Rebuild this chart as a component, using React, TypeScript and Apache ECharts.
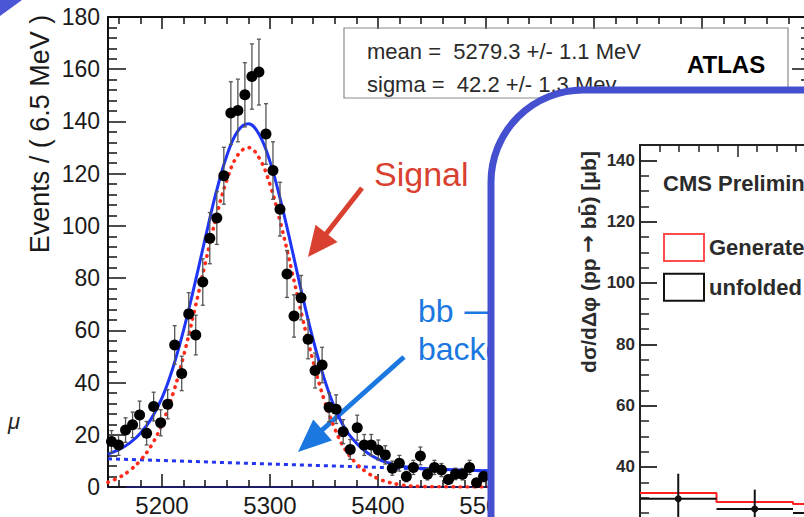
import React, { useEffect, useRef } from "react";
import * as echarts from "echarts";

const FONT = "'Liberation Sans', Arial, Helvetica, sans-serif";
const ARROW_FONT = "'DejaVu Sans', sans-serif";

// ---------- ATLAS B-meson mass spectrum ----------
const massBinStart = 5150;
const massBinWidth = 6.5;
const eventCounts = [
  17.4, 16.1, 21.8, 23.8, 27.6, 20.6, 30.8, 24.6, 31.7, 54.4,
  43.5, 66.3, 58.2, 78.5, 95.3, 103, 119.2, 143.2, 144.2, 150.2,
  157.2, 158.9, 135.2, 121.2, 106.4, 81.6, 65.5, 72.5, 56.6, 44.6,
  46.7, 30.5, 29.8, 21.2, 14.4, 22.7, 16.1, 16.1, 14.2, 12.3,
  7.2, 9.1, 4.0, 7.5, 11.9, 4.9, 7.5, 6.5, 2.9, 5.0,
  4.9, 7.5, 1.6, 4.0,
];
const eventErrors = [
  4.2, 4.0, 4.7, 4.9, 5.3, 4.5, 5.5, 5.0, 5.6, 7.4,
  6.6, 8.1, 7.6, 8.9, 9.8, 10.1, 10.9, 12.0, 12.0, 12.3,
  12.5, 12.6, 11.6, 11.0, 10.3, 9.0, 8.1, 8.5, 7.5, 6.7,
  6.8, 5.5, 5.5, 4.6, 3.8, 4.8, 4.0, 4.0, 3.8, 3.5,
  2.7, 3.0, 2.0, 2.7, 3.4, 2.2, 2.7, 2.5, 1.7, 2.2,
  2.2, 2.7, 1.3, 2.0,
];
const fitMass = [
  5150, 5160, 5170, 5180, 5190, 5200, 5210, 5220, 5230, 5240,
  5250, 5260, 5270, 5280, 5290, 5300, 5310, 5320, 5330, 5340,
  5350, 5360, 5370, 5380, 5390, 5400, 5410, 5420, 5430, 5440,
  5450, 5500, 5600, 5700, 5800,
];
const signalFit = [
  1.8, 3.6, 6.3, 10.2, 15.8, 24.0, 35.5, 50.2, 67.4, 85.6,
  103.1, 117.5, 127.0, 130.0, 126.0, 115.8, 100.7, 83.1, 64.9, 48.0,
  33.6, 22.3, 14.1, 9.0, 5.5, 3.2, 1.8, 0.9, 0.4, 0.2,
  0.1, 0, 0, 0, 0,
];
const totalFit = [
  12.6, 14.3, 16.8, 20.6, 26.1, 34.1, 45.5, 60.1, 77.1, 95.2,
  112.6, 126.9, 136.2, 139.1, 135.0, 124.6, 109.4, 91.7, 73.3, 56.3,
  41.8, 30.3, 22.0, 16.8, 13.1, 10.7, 9.2, 8.1, 7.5, 7.2,
  6.9, 6.2, 4.9, 3.5, 2.2,
];
const bkgMass = [5150, 5800];
const bkgFit = [10.8, 2.2];

// ---------- CMS inset: dσ/dΔφ ----------
const dphiEdges = [0, Math.PI / 8, Math.PI / 4, (3 * Math.PI) / 8];
const generatedXsec = [31.5, 28.6, 27.9];
const unfoldedXsec = [29.6, 26.3, 25.0];
const unfoldedErr = [8.2, 6.3, 6.0];

const RED_TXT = "#d9402f";
const BLUE_TXT = "#1b78e0";
const FRAME = "#4450d0";

function buildOption(): any {
  const binCenters = eventCounts.map((_, i) => massBinStart + massBinWidth * (i + 0.5));
  const atlasAxisLine = { show: true, onZero: false, lineStyle: { color: "#111", width: 2 } };
  const tickLine = { color: "#111", width: 1.5 };
  const plain = (v: number) => String(v);

  return {
    animation: false,
    backgroundColor: "#ffffff",
    textStyle: { fontFamily: FONT },
    grid: [
      { left: 108, top: 17, width: 702, height: 470, outerBoundsMode: "none", containLabel: false },
      { left: 640, top: 145, width: 612, height: 444.6, outerBoundsMode: "none", containLabel: false },
    ],
    xAxis: [
      {
        type: "value", gridIndex: 0, position: "bottom", min: 5150, max: 5800, splitNumber: 5,
        axisLine: { show: true, onZero: false, lineStyle: { color: "#1c1c66", width: 2 } },
        axisTick: { show: true, inside: true, length: 13, lineStyle: tickLine },
        minorTick: { show: true, splitNumber: 5, length: 7, lineStyle: tickLine },
        axisLabel: { show: true, margin: 6, fontSize: 24, color: "#1a1a1a", fontFamily: FONT, showMinLabel: false, showMaxLabel: false, formatter: plain },
        splitLine: { show: false }, minorSplitLine: { show: false },
      },
      {
        type: "value", gridIndex: 0, position: "top", min: 5150, max: 5800, splitNumber: 5,
        axisLine: atlasAxisLine,
        axisTick: { show: true, inside: true, length: 12, lineStyle: tickLine },
        minorTick: { show: true, splitNumber: 5, length: 7, lineStyle: tickLine },
        axisLabel: { show: false },
        splitLine: { show: false }, minorSplitLine: { show: false },
      },
      {
        type: "value", gridIndex: 1, position: "top", min: 0, max: Math.PI, interval: 0.5, z: 20,
        axisLine: { show: true, onZero: false, lineStyle: { color: "#222", width: 2 } },
        axisTick: { show: true, inside: true, length: 12, lineStyle: { color: "#222", width: 1.5 } },
        minorTick: { show: true, splitNumber: 5, length: 7, lineStyle: { color: "#222", width: 1.5 } },
        axisLabel: { show: false },
        splitLine: { show: false }, minorSplitLine: { show: false },
      },
    ],
    yAxis: [
      {
        type: "value", gridIndex: 0, position: "left", min: 0, max: 180, interval: 20,
        axisLine: atlasAxisLine,
        axisTick: { show: true, inside: true, length: 18, lineStyle: tickLine },
        minorTick: { show: true, splitNumber: 5, length: 9, lineStyle: tickLine },
        axisLabel: { show: true, margin: 8, fontSize: 23, color: "#1a1a1a", fontFamily: FONT, formatter: plain },
        splitLine: { show: false }, minorSplitLine: { show: false },
      },
      {
        type: "value", gridIndex: 0, position: "right", min: 0, max: 180, interval: 20,
        axisLine: atlasAxisLine,
        axisTick: { show: true, inside: true, length: 18, lineStyle: tickLine },
        minorTick: { show: true, splitNumber: 5, length: 9, lineStyle: tickLine },
        axisLabel: { show: false },
        splitLine: { show: false }, minorSplitLine: { show: false },
      },
      {
        type: "value", gridIndex: 1, position: "left", min: 0, max: 145, interval: 20, z: 20,
        axisLine: { show: true, onZero: false, lineStyle: { color: "#222", width: 2 } },
        axisTick: { show: true, inside: true, length: 17, lineStyle: { color: "#222", width: 1.8 } },
        minorTick: { show: true, splitNumber: 4, length: 9, lineStyle: { color: "#222", width: 1.5 } },
        axisLabel: { show: true, margin: 5, fontSize: 17, fontWeight: "bold", color: "#2b2b2b", fontFamily: FONT, showMaxLabel: false, formatter: plain },
        splitLine: { show: false }, minorSplitLine: { show: false },
      },
    ],
    legend: {
      show: true, orient: "vertical", left: 663, top: 233, padding: 0,
      itemWidth: 40, itemHeight: 27, itemGap: 10.7, selectedMode: false, z: 20,
      textStyle: { fontSize: 22, fontWeight: "bold", color: "#2b2b2b", fontFamily: FONT },
      data: [
        { name: "Generated", icon: "rect", itemStyle: { color: "rgba(0,0,0,0)", borderColor: "#ff4d4d", borderWidth: 2 } },
        { name: "unfolded data", icon: "rect", itemStyle: { color: "rgba(0,0,0,0)", borderColor: "#111", borderWidth: 2 } },
      ],
    },
    series: [
      {
        type: "line", name: "background fit", xAxisIndex: 0, yAxisIndex: 0, z: 3, silent: true,
        data: bkgMass.map((m, i) => [m, bkgFit[i]]), showSymbol: false,
        lineStyle: { color: "#2236f0", width: 3, type: [4, 4] },
      },
      {
        type: "line", name: "signal fit", xAxisIndex: 0, yAxisIndex: 0, z: 3, silent: true,
        data: fitMass.map((m, i) => [m, signalFit[i]]), showSymbol: false, smooth: 0.4,
        lineStyle: { color: "#ff2a1a", width: 3.6, type: [0.5, 6.6], cap: "round" },
      },
      {
        type: "line", name: "total fit", xAxisIndex: 0, yAxisIndex: 0, z: 4, silent: true,
        data: fitMass.map((m, i) => [m, totalFit[i]]), showSymbol: false, smooth: 0.4,
        lineStyle: { color: "#1f35f5", width: 3 },
      },
      {
        type: "custom", name: "stat errors", xAxisIndex: 0, yAxisIndex: 0, z: 5, silent: true,
        data: binCenters.map((x, i) => [x, eventCounts[i], eventErrors[i]]),
        renderItem: (params: any, api: any) => {
          const x = api.value(0), y = api.value(1), e = api.value(2);
          const top = api.coord([x, y + e]);
          const bot = api.coord([x, y - e]);
          const style = { stroke: "#555", lineWidth: 1.3 };
          return {
            type: "group",
            children: [
              { type: "line", shape: { x1: top[0], y1: top[1], x2: bot[0], y2: bot[1] }, style },
              { type: "line", shape: { x1: top[0] - 2, y1: top[1], x2: top[0] + 2, y2: top[1] }, style },
              { type: "line", shape: { x1: bot[0] - 2, y1: bot[1], x2: bot[0] + 2, y2: bot[1] }, style },
            ],
          };
        },
      },
      {
        type: "scatter", name: "data", xAxisIndex: 0, yAxisIndex: 0, z: 6, silent: true,
        data: binCenters.map((x, i) => [x, eventCounts[i]]),
        symbol: "circle", symbolSize: 11, itemStyle: { color: "#000", opacity: 1 },
      },
      // CMS inset
      {
        type: "line", name: "Generated", xAxisIndex: 2, yAxisIndex: 2, z: 20, silent: true, step: "end",
        data: dphiEdges.map((e, i) => [e, generatedXsec[Math.min(i, generatedXsec.length - 1)]]),
        showSymbol: false, lineStyle: { color: "#ff2020", width: 2 }, itemStyle: { color: "#ff2020" },
      },
      {
        type: "custom", name: "unfolded data", xAxisIndex: 2, yAxisIndex: 2, z: 21, silent: true,
        itemStyle: { color: "#111" },
        data: unfoldedXsec.map((v, i) => [dphiEdges[i], dphiEdges[i + 1], v, unfoldedErr[i]]),
        renderItem: (params: any, api: any) => {
          const lo = api.value(0), hi = api.value(1), v = api.value(2), e = api.value(3);
          const c = (lo + hi) / 2;
          const a = api.coord([lo, v]);
          const b = api.coord([hi, v]);
          const p = api.coord([c, v]);
          const t = api.coord([c, v + e]);
          const d = api.coord([c, v - e]);
          const style = { stroke: "#111", lineWidth: 2 };
          return {
            type: "group",
            children: [
              { type: "line", shape: { x1: a[0], y1: a[1], x2: b[0], y2: b[1] }, style },
              { type: "line", shape: { x1: t[0], y1: t[1], x2: d[0], y2: d[1] }, style },
              { type: "circle", shape: { cx: p[0], cy: p[1], r: 3.5 }, style: { fill: "#111" } },
            ],
          };
        },
      },
    ],
    graphic: {
      elements: [
        { type: "polygon", z: 1, shape: { points: [[0, 0], [22, 0], [0, 16]] }, style: { fill: "#4a56d6" } },
        {
          type: "text", z: 1, x: 40, y: 134, rotation: Math.PI / 2,
          style: { text: "Events / ( 6.5 MeV )", font: `27px ${FONT}`, fill: "#1a1a1a", align: "center", verticalAlign: "middle", textAlign: "center", textVerticalAlign: "middle" },
        },
        { type: "rect", z: 1, shape: { x: 344, y: 28, width: 444, height: 70 }, style: { fill: "none", stroke: "#8a8a8a", lineWidth: 1.2 } },
        {
          type: "text", z: 1, x: 367, y: 51,
          style: { text: "mean =  5279.3 +/- 1.1 MeV", font: `22px ${FONT}`, fill: "#2a2a2a", align: "left", verticalAlign: "middle", textAlign: "left", textVerticalAlign: "middle" },
        },
        {
          type: "text", z: 1, x: 367, y: 84,
          style: { text: "sigma =  42.2 +/- 1.3 Mev", font: `22px ${FONT}`, fill: "#2a2a2a", align: "left", verticalAlign: "middle", textAlign: "left", textVerticalAlign: "middle" },
        },
        {
          type: "text", z: 1, x: 687, y: 64,
          style: { text: "ATLAS", font: `bold 24px ${FONT}`, fill: "#000", align: "left", verticalAlign: "middle", textAlign: "left", textVerticalAlign: "middle" },
        },
        {
          type: "text", z: 1, x: 374, y: 174,
          style: { text: "Signal", font: `34px ${FONT}`, fill: RED_TXT, align: "left", verticalAlign: "middle", textAlign: "left", textVerticalAlign: "middle" },
        },
        { type: "line", z: 1, shape: { x1: 362, y1: 188, x2: 326, y2: 234 }, style: { stroke: RED_TXT, lineWidth: 5 } },
        { type: "polygon", z: 1, shape: { points: [[308, 257], [337.5, 242], [315.5, 224.8]] }, style: { fill: RED_TXT } },
        {
          type: "text", z: 1, x: 418, y: 311,
          style: {
            text: "bb {ar|⟶}", font: `32px ${FONT}`, fill: BLUE_TXT, align: "left", verticalAlign: "middle", textAlign: "left", textVerticalAlign: "middle",
            rich: { ar: { fontFamily: ARROW_FONT, fontSize: 30, fill: BLUE_TXT, color: BLUE_TXT } },
          },
        },
        {
          type: "text", z: 1, x: 418, y: 349,
          style: { text: "background", font: `32px ${FONT}`, fill: BLUE_TXT, align: "left", verticalAlign: "middle", textAlign: "left", textVerticalAlign: "middle" },
        },
        { type: "line", z: 1, shape: { x1: 404, y1: 357, x2: 321, y2: 431 }, style: { stroke: BLUE_TXT, lineWidth: 5 } },
        { type: "polygon", z: 1, shape: { points: [[298, 452], [332, 440.4], [313.2, 419.6]] }, style: { fill: BLUE_TXT } },
        {
          type: "text", z: 1, x: 8, y: 421,
          style: { text: "μ", font: `italic 22px ${FONT}`, fill: "#222", align: "left", verticalAlign: "middle", textAlign: "left", textVerticalAlign: "middle" },
        },
        // inset frame
        { type: "rect", z: 10, shape: { x: 491, y: 90, width: 500, height: 600, r: 92 }, style: { fill: "#ffffff", stroke: FRAME, lineWidth: 7 } },
        {
          type: "text", z: 20, x: 663, y: 183,
          style: { text: "CMS Preliminary", font: `bold 22px ${FONT}`, fill: "#2b2b2b", align: "left", verticalAlign: "middle", textAlign: "left", textVerticalAlign: "middle" },
        },
        {
          type: "text", z: 20, x: 588, y: 262, rotation: Math.PI / 2,
          style: {
            text: "dσ/dΔφ (pp {ar|→} bb\u0304) [μb]", font: `bold 21px ${FONT}`, fill: "#2b2b2b", align: "center", verticalAlign: "middle", textAlign: "center", textVerticalAlign: "middle",
            rich: { ar: { fontFamily: ARROW_FONT, fontSize: 21, fontWeight: "bold", fill: "#2b2b2b", color: "#2b2b2b" } },
          },
        },
      ],
    },
  };
}

export default function App() {
  const ref = useRef<HTMLDivElement | null>(null);
  useEffect(() => {
    if (!ref.current) return;
    const chart = echarts.init(ref.current, null, { renderer: "svg", width: 804, height: 517 });
    chart.setOption(buildOption());
    return () => chart.dispose();
  }, []);
  return (
    <div
      ref={ref}
      style={{ position: "absolute", left: 0, top: 0, width: 804, height: 517, overflow: "hidden", background: "#fff" }}
    />
  );
}
